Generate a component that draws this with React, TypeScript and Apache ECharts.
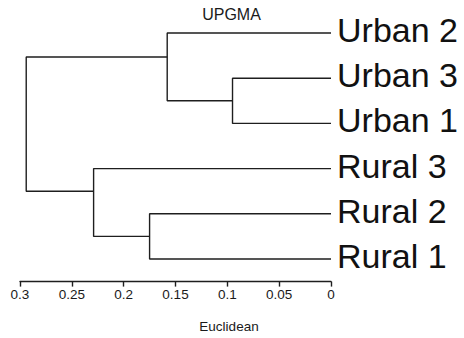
import React, { useEffect, useRef } from "react";
import * as echarts from "echarts";

// Leaves, top to bottom, with their row positions
const leafNames = ["Urban 2", "Urban 3", "Urban 1", "Rural 3", "Rural 2", "Rural 1"];
const leafRows = [5, 4, 3, 2, 1, 0];

// Internal nodes of the UPGMA tree (Euclidean distance heights)
const nodeNames = ["U31", "U", "R21", "R", "root"];
const nodeHeights = [0.095, 0.158, 0.175, 0.229, 0.294];
const nodeRows = [3.5, 4.47, 0.5, 1.5, 2.9];
const nodeChildren = [
  ["Urban 3", "Urban 1"],
  ["Urban 2", "U31"],
  ["Rural 2", "Rural 1"],
  ["Rural 3", "R21"],
  ["U", "R"],
];

const axisMin = 0;
const axisMax = 0.3;
const axisInterval = 0.05;

const titleText = "UPGMA";
const axisTitle = "Euclidean";

const FONT = "'Liberation Sans', Arial, Helvetica, sans-serif";
const INK = "#1e1e1e";

function lookup(name: string): [number, number] {
  const li = leafNames.indexOf(name);
  if (li >= 0) return [0, leafRows[li]];
  const ni = nodeNames.indexOf(name);
  return [nodeHeights[ni], nodeRows[ni]];
}

export default function App() {
  const ref = useRef<HTMLDivElement>(null);
  useEffect(() => {
    if (!ref.current) return;
    const chart = echarts.init(ref.current, undefined, { renderer: "svg" });

    const branchSeries = nodeNames.map((name, i) => {
      const [c1, c2] = nodeChildren[i];
      const a = lookup(c1);
      const b = lookup(c2);
      const h = nodeHeights[i];
      return {
        type: "line",
        name,
        data: [
          [a[0], a[1]],
          [h, a[1]],
          [h, b[1]],
          [b[0], b[1]],
        ],
        symbol: "none",
        silent: true,
        lineStyle: { color: INK, width: 1.4 },
        z: 2,
      };
    });

    const labelSeries = {
      type: "scatter",
      symbolSize: 0,
      silent: true,
      itemStyle: { opacity: 1 },
      data: leafNames.map((n, i) => ({ name: n, value: [0, leafRows[i]] })),
      label: {
        show: true,
        position: "right",
        distance: 6,
        formatter: (p: any) => p.name,
        fontFamily: FONT,
        fontSize: 34,
        color: "#111",
        opacity: 1,
        offset: [0, -3],
      },
    };

    chart.setOption({
      animation: false,
      backgroundColor: "#ffffff",
      grid: { left: 20, right: 133, top: 10.4, bottom: 56.4, containLabel: false },
      xAxis: {
        type: "value",
        inverse: true,
        min: axisMin,
        max: axisMax,
        interval: axisInterval,
        splitLine: { show: false },
        axisLine: { show: true, onZero: false, lineStyle: { color: INK, width: 1.4 } },
        axisTick: { show: true, length: 5, lineStyle: { color: INK, width: 1.4 } },
        axisLabel: { color: "#1a1a1a", fontSize: 13.5, fontFamily: FONT, margin: 6 },
      },
      yAxis: {
        type: "value",
        min: -0.5,
        max: 5.5,
        show: false,
      },
      series: [...branchSeries, labelSeries],
      graphic: [
        {
          type: "text",
          x: 231.5,
          y: 14,
          style: {
            text: titleText,
            fontFamily: FONT,
            fontSize: 16,
            fill: "#1a1a1a",
            textAlign: "center",
            textVerticalAlign: "middle",
          },
        },
        {
          type: "text",
          x: 229,
          y: 326,
          style: {
            text: axisTitle,
            fontFamily: FONT,
            fontSize: 13.5,
            fill: "#1a1a1a",
            textAlign: "center",
            textVerticalAlign: "middle",
          },
        },
      ],
    });
    return () => chart.dispose();
  }, []);
  return (
    <div
      ref={ref}
      style={{ position: "fixed", left: 0, top: 0, width: 464, height: 338, background: "#fff" }}
    />
  );
}
